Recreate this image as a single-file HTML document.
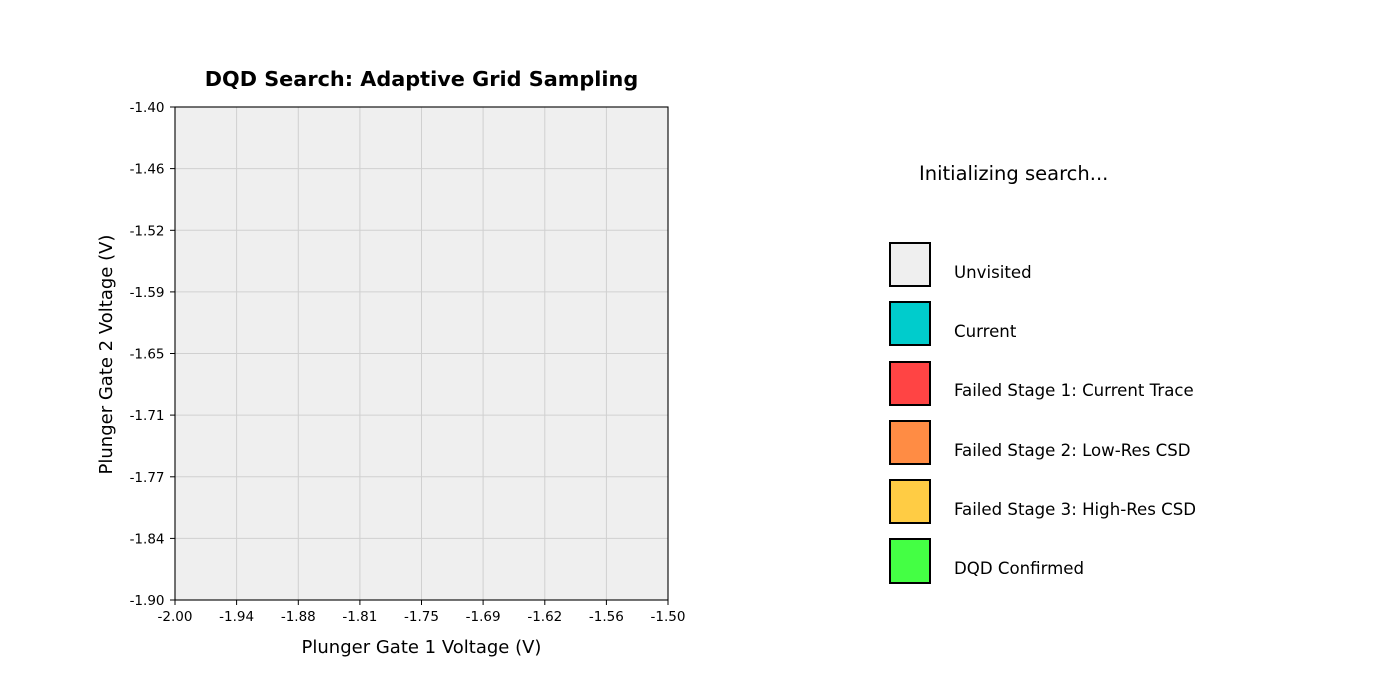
<!DOCTYPE html>
<html><head><meta charset="utf-8"><style>
html,body{margin:0;padding:0;background:#fff;}
svg{display:block;font-family:"DejaVu Sans","Liberation Sans",sans-serif;}
</style></head><body>
<svg width="1400" height="700" viewBox="0 0 1400 700" xmlns="http://www.w3.org/2000/svg">
<rect x="175" y="107" width="493" height="493" fill="#efefef"/>
<g stroke="#d0d0d0" stroke-width="1">
<line x1="236.6" y1="107" x2="236.6" y2="600"/>
<line x1="298.3" y1="107" x2="298.3" y2="600"/>
<line x1="359.9" y1="107" x2="359.9" y2="600"/>
<line x1="421.5" y1="107" x2="421.5" y2="600"/>
<line x1="483.1" y1="107" x2="483.1" y2="600"/>
<line x1="544.8" y1="107" x2="544.8" y2="600"/>
<line x1="606.4" y1="107" x2="606.4" y2="600"/>
<line x1="175" y1="168.6" x2="668" y2="168.6"/>
<line x1="175" y1="230.3" x2="668" y2="230.3"/>
<line x1="175" y1="291.9" x2="668" y2="291.9"/>
<line x1="175" y1="353.5" x2="668" y2="353.5"/>
<line x1="175" y1="415.1" x2="668" y2="415.1"/>
<line x1="175" y1="476.8" x2="668" y2="476.8"/>
<line x1="175" y1="538.4" x2="668" y2="538.4"/>
</g>
<rect x="175" y="107" width="493" height="493" fill="none" stroke="#000" stroke-width="1.1"/>
<g stroke="#000" stroke-width="1">
<line x1="175" y1="600" x2="175" y2="605"/><line x1="236.6" y1="600" x2="236.6" y2="605"/><line x1="298.3" y1="600" x2="298.3" y2="605"/><line x1="359.9" y1="600" x2="359.9" y2="605"/><line x1="421.5" y1="600" x2="421.5" y2="605"/><line x1="483.1" y1="600" x2="483.1" y2="605"/><line x1="544.8" y1="600" x2="544.8" y2="605"/><line x1="606.4" y1="600" x2="606.4" y2="605"/><line x1="668" y1="600" x2="668" y2="605"/>
<line x1="170" y1="107" x2="175" y2="107"/><line x1="170" y1="168.6" x2="175" y2="168.6"/><line x1="170" y1="230.3" x2="175" y2="230.3"/><line x1="170" y1="291.9" x2="175" y2="291.9"/><line x1="170" y1="353.5" x2="175" y2="353.5"/><line x1="170" y1="415.1" x2="175" y2="415.1"/><line x1="170" y1="476.8" x2="175" y2="476.8"/><line x1="170" y1="538.4" x2="175" y2="538.4"/><line x1="170" y1="600" x2="175" y2="600"/>
</g>
<g font-size="13.5" text-anchor="middle" fill="#000">
<text x="175" y="621">-2.00</text><text x="236.6" y="621">-1.94</text><text x="298.3" y="621">-1.88</text><text x="359.9" y="621">-1.81</text><text x="421.5" y="621">-1.75</text><text x="483.1" y="621">-1.69</text><text x="544.8" y="621">-1.62</text><text x="606.4" y="621">-1.56</text><text x="668" y="621">-1.50</text>
</g>
<g font-size="13.5" text-anchor="end" fill="#000">
<text x="164.5" y="112">-1.40</text><text x="164.5" y="173.6">-1.46</text><text x="164.5" y="235.3">-1.52</text><text x="164.5" y="296.9">-1.59</text><text x="164.5" y="358.5">-1.65</text><text x="164.5" y="420.1">-1.71</text><text x="164.5" y="481.8">-1.77</text><text x="164.5" y="543.4">-1.84</text><text x="164.5" y="605">-1.90</text>
</g>
<text x="421.5" y="653" font-size="18" text-anchor="middle">Plunger Gate 1 Voltage (V)</text>
<text transform="translate(112,354.5) rotate(-90)" font-size="18" text-anchor="middle">Plunger Gate 2 Voltage (V)</text>
<text x="421.5" y="86" font-size="20.8" font-weight="bold" text-anchor="middle">DQD Search: Adaptive Grid Sampling</text>
<text x="919" y="180" font-size="19.5">Initializing search...</text>
<g stroke="#000" stroke-width="2">
<rect x="890" y="243" width="40" height="43" fill="#efefef"/>
<rect x="890" y="302" width="40" height="43" fill="#00cccc"/>
<rect x="890" y="362" width="40" height="43" fill="#ff4444"/>
<rect x="890" y="421" width="40" height="43" fill="#ff8c44"/>
<rect x="890" y="480" width="40" height="43" fill="#ffcc44"/>
<rect x="890" y="539" width="40" height="44" fill="#44ff44"/>
</g>
<g font-size="16.6" fill="#000">
<text x="954" y="278">Unvisited</text>
<text x="954" y="337">Current</text>
<text x="954" y="396">Failed Stage 1: Current Trace</text>
<text x="954" y="456">Failed Stage 2: Low-Res CSD</text>
<text x="954" y="515">Failed Stage 3: High-Res CSD</text>
<text x="954" y="574">DQD Confirmed</text>
</g>
</svg>
</body></html>
